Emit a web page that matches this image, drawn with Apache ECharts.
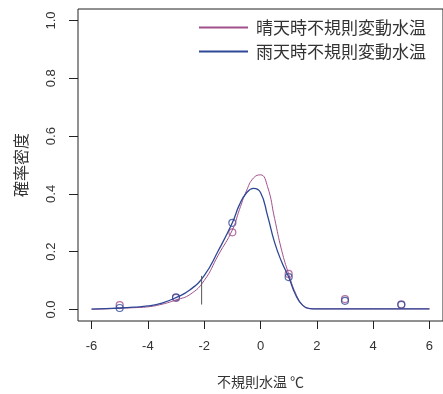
<!DOCTYPE html>
<html><head><meta charset="utf-8">
<script src="https://cdn.jsdelivr.net/npm/echarts@6/dist/echarts.min.js"></script>
<style>html,body{margin:0;padding:0;background:#fff}#c{width:443px;height:394px}</style>
</head><body><div id="c"></div>
<script>
const curveX = [-6,-5.5,-5,-4.5,-4,-3.5,-3,-2.5,-2,-1.5,-1,-0.75,-0.5,-0.25,0,0.25,0.5,0.75,1,1.25,1.5,1.75,2,3,4,5,6];
const sunnyCurve = [0.001,0.002,0.004,0.006,0.009,0.018,0.033,0.052,0.100,0.188,0.275,0.345,0.410,0.455,0.466,0.425,0.315,0.205,0.123,0.055,0.014,0.003,0.002,0.002,0.002,0.002,0.002];
const rainyCurve = [0.001,0.003,0.005,0.008,0.012,0.022,0.041,0.068,0.117,0.203,0.300,0.362,0.403,0.419,0.405,0.325,0.232,0.165,0.112,0.050,0.014,0.003,0.002,0.002,0.002,0.002,0.002];
const pointX = [-5,-3,-1,1,3,5];
const sunnyPoints = [0.015,0.040,0.267,0.123,0.036,0.018];
const rainyPoints = [0.005,0.042,0.300,0.112,0.030,0.016];
const markX = [-2.09,-2.09];
const markY = [0.017,0.116];
const xTicks = [-6,-4,-2,0,2,4,6];
const yTicks = [0,0.2,0.4,0.6,0.8,1.0];
const names = ['晴天時不規則変動水温','雨天時不規則変動水温'];
const colSunny = '#a0508c';
const colRainy = '#2f4896';
const zip = (a,b)=>a.map((v,i)=>[v,b[i]]);
const chart = echarts.init(document.getElementById('c'));
chart.setOption({
  animation:false,
  grid:{left:78,right:-3,top:9,bottom:69,show:true,borderColor:'#222',borderWidth:1,backgroundColor:'transparent'},
  legend:{data:names,orient:'vertical',right:12,top:14,itemWidth:49,itemHeight:2,itemGap:7,icon:'rect',
    textStyle:{fontSize:17,color:'#333',fontFamily:'Noto Sans CJK JP',padding:[0,0,0,3]}},
  xAxis:{type:'value',min:-6.48,max:6.48,
    name:'不規則水温 ℃',nameLocation:'middle',nameGap:54,
    nameTextStyle:{fontSize:14,color:'#333',fontFamily:'Noto Sans CJK JP'},
    axisLine:{show:false,onZero:false},splitLine:{show:false},
    axisTick:{show:true,length:8,inside:false,customValues:xTicks,lineStyle:{color:'#222'}},
    axisLabel:{customValues:xTicks,fontSize:13,color:'#333',margin:19,fontFamily:'Liberation Sans',
      formatter:v=>String(v)}},
  yAxis:{type:'value',min:-0.04,max:1.04,
    name:'確率密度',nameLocation:'middle',nameGap:49,nameRotate:90,
    nameTextStyle:{fontSize:16,color:'#333',fontFamily:'Noto Sans CJK JP'},
    axisLine:{show:false,onZero:false},splitLine:{show:false},
    axisTick:{show:true,length:9,customValues:yTicks,lineStyle:{color:'#222'}},
    axisLabel:{customValues:yTicks,rotate:90,fontSize:13,color:'#333',margin:20,fontFamily:'Liberation Sans',
      formatter:v=>v.toFixed(1)}},
  series:[
    {name:names[0],type:'line',data:zip(curveX,sunnyCurve),smooth:0.5,symbol:'none',
      lineStyle:{color:colSunny,width:1},itemStyle:{color:colSunny}},
    {name:names[1],type:'line',data:zip(curveX,rainyCurve),smooth:0.5,symbol:'none',
      lineStyle:{color:colRainy,width:1.3},itemStyle:{color:colRainy}},
    {name:'sunnyPts',type:'scatter',data:zip(pointX,sunnyPoints),symbol:'circle',symbolSize:7,
      itemStyle:{color:'transparent',borderColor:colSunny,borderWidth:1.2}},
    {name:'rainyPts',type:'scatter',data:zip(pointX,rainyPoints),symbol:'circle',symbolSize:7,
      itemStyle:{color:'transparent',borderColor:colRainy,borderWidth:1.2}},
    {name:'mark',type:'line',data:zip(markX,markY),symbol:'none',lineStyle:{color:'#555',width:1}}
  ]
});
</script></body></html>
